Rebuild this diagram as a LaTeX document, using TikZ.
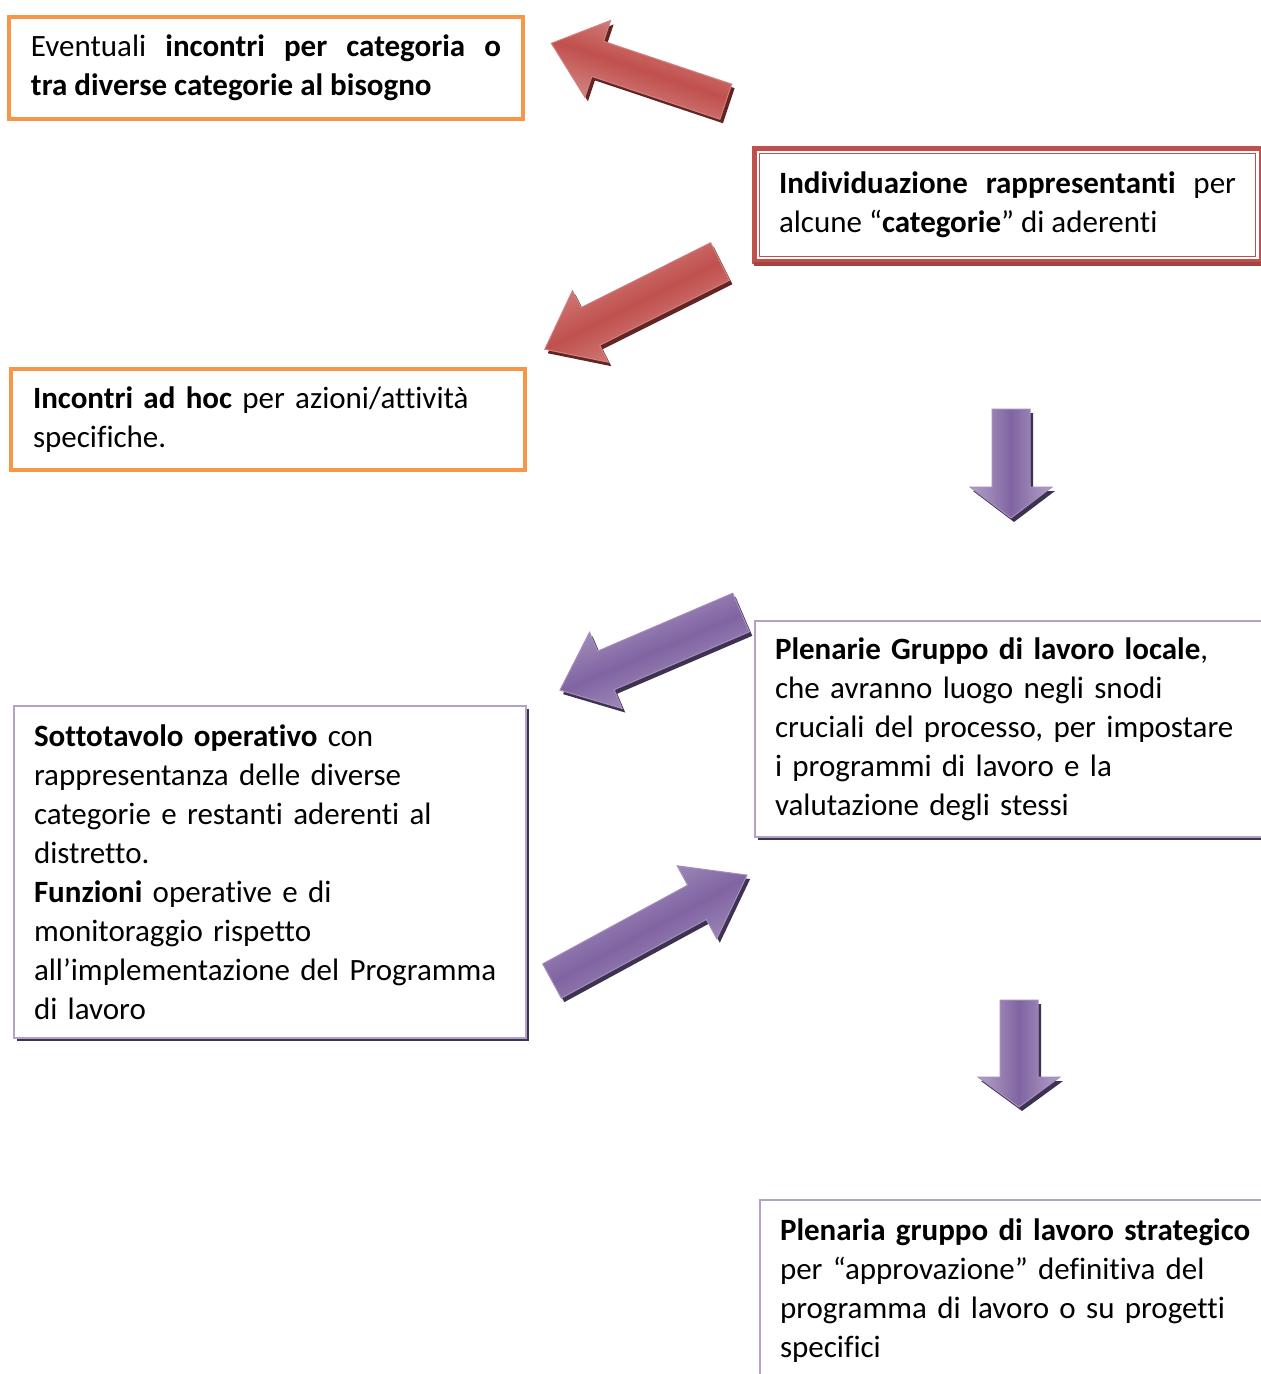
\documentclass[tikz,border=0pt]{standalone}
\usepackage{fontspec}
\setmainfont{Carlito}[Ligatures={NoCommon}]
\usetikzlibrary{shadows}
\hyphenpenalty=10000

\definecolor{orangebox}{HTML}{F79646}
\definecolor{redbox}{HTML}{C0504D}
\definecolor{redlight}{HTML}{D99694}
\definecolor{redshadow}{HTML}{632523}
\definecolor{lilacline}{HTML}{B3A2C7}
\definecolor{purplemid}{HTML}{8064A2}
\definecolor{purplelight}{HTML}{B3A2C7}
\definecolor{purpleshadow}{HTML}{3F3151}

\tikzstyle{txt}=[font=\fontsize{15.5}{19.5}\selectfont,anchor=north west,inner ysep=0pt,outer sep=0pt]
\tikzstyle{boxo}=[txt,draw=orangebox,line width=2pt]
\tikzstyle{boxr}=[txt,draw=redbox,line width=2.5pt,fill=white]
\tikzstyle{boxp}=[txt,draw=lilacline,line width=1pt,fill=white,drop shadow={shadow xshift=1.5pt,shadow yshift=-1.5pt,fill=purpleshadow,opacity=1}]
\tikzstyle{arrowr}=[top color=redlight,bottom color=redlight,middle color=redbox,draw=redlight!70!redbox,line width=0.5pt]
\tikzstyle{arrowp}=[top color=purplelight,bottom color=purplelight,middle color=purplemid,draw=purplelight!70!purplemid,line width=0.5pt]

% #1 style, #2 shadow, #3/#4 tail centre, #5 angle, #6 length, #7 shaft half width, #8 head half width, #9 head length
\newcommand{\fatarrow}[9]{%
  \begin{scope}[shift={(#3+3,#4+4)},rotate=#5]
    \fill[#2] (0,-#7) -- (#6-#9,-#7) -- (#6-#9,-#8) -- (#6,0) -- (#6-#9,#8) -- (#6-#9,#7) -- (0,#7) -- cycle;
  \end{scope}
  \begin{scope}[shift={(#3,#4)},rotate=#5]
    \path[#1,shading angle=#5] (0,-#7) -- (#6-#9,-#7) -- (#6-#9,-#8) -- (#6,0) -- (#6-#9,#8) -- (#6-#9,#7) -- (0,#7) -- cycle;
  \end{scope}}

\begin{document}
\begin{tikzpicture}[x=0.5pt,y=-0.5pt]
    \useasboundingbox (0,0) rectangle (1261,1374);

    % boxes
    \node[boxo,minimum width=257pt,minimum height=51pt,text width=235pt,align=justify] (eventuali) at (9,17)
      {Eventuali \textbf{incontri per categoria o}\linebreak\textbf{tra diverse categorie al bisogno}};
    \node[boxr,minimum width=253.5pt,minimum height=56.5pt,text width=228.5pt,align=justify] (individ) at (754,148.5)
      {\textbf{Individuazione rappresentanti} per\linebreak alcune “\textbf{categorie}” di aderenti};
    \draw[redbox,line width=0.6pt] ([shift={(2.6pt,-2.6pt)}]individ.north west) rectangle ([shift={(-2.6pt,2.6pt)}]individ.south east);
    \draw[redbox!85!black,line width=2pt] ([shift={(0pt,-1.5pt)}]individ.south west) -- ([shift={(0pt,-1.5pt)}]individ.south east);
    \node[boxo,minimum width=257pt,minimum height=50.5pt,text width=235pt,align=left] (adhoc) at (11,369)
      {\textbf{Incontri ad hoc} per azioni/attività\\specifiche.};
    \node[boxp,minimum width=260pt,minimum height=108pt,text width=240pt,align=left] (plenloc) at (755,621)
      {\textbf{Plenarie Gruppo di lavoro locale},\\che avranno luogo negli snodi\\cruciali del processo, per impostare\\i programmi di lavoro e la\\valutazione degli stessi};
    \node[boxp,minimum width=256pt,minimum height=166pt,text width=236pt,align=left] (sottotav) at (14,706)
      {\textbf{Sottotavolo operativo} con\\rappresentanza delle diverse\\categorie e restanti aderenti al\\distretto.\\\textbf{Funzioni} operative e di\\monitoraggio rispetto\\all’implementazione del Programma\\di lavoro};
    \node[boxp,minimum width=260pt,minimum height=91pt,text width=240pt,align=left] (plenstr) at (760,1200)
      {\textbf{Plenaria gruppo di lavoro strategico}\\per “approvazione” definitiva del\\programma di lavoro o su progetti\\specifici};

    % arrows
    \fatarrow{arrowr}{redshadow}{725.8}{101.7}{161.5}{184}{18.5}{40.5}{49}
    \fatarrow{arrowr}{redshadow}{720}{261.5}{206.6}{196}{21}{40}{51}
    \fatarrow{arrowp}{purpleshadow}{1011}{409}{270}{109}{19}{41}{31}
    \fatarrow{arrowp}{purpleshadow}{741}{612.5}{203.2}{197}{21}{41.5}{50}
    \fatarrow{arrowp}{purpleshadow}{552}{981}{28.5}{222}{19.5}{41.5}{57}
    \fatarrow{arrowp}{purpleshadow}{1019}{1000}{270}{107}{19}{41}{30}
\end{tikzpicture}
\end{document}
